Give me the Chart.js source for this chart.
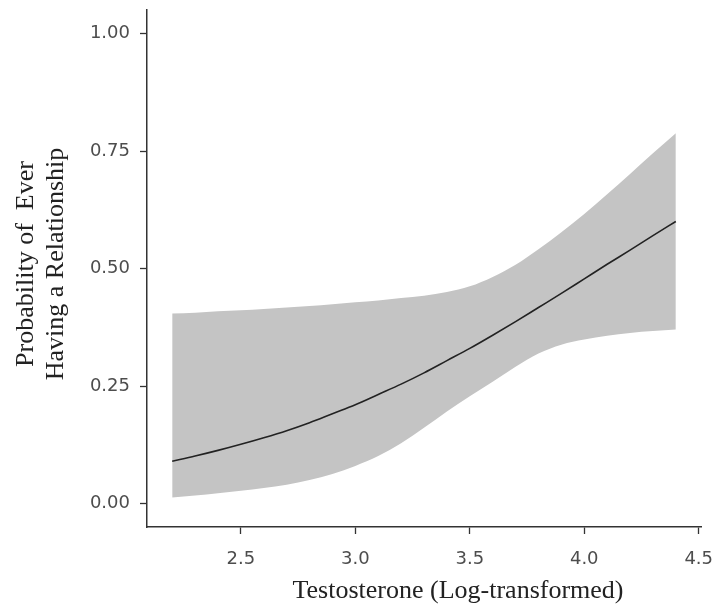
<!DOCTYPE html>
<html lang="en">
<head>
  <meta charset="UTF-8">
  <title>Probability of Ever Having a Relationship</title>
  <script src="https://cdn.jsdelivr.net/npm/chart.js"></script>
  <style>
    html, body { margin: 0; padding: 0; background: #fff; }
    .wrap { width: 716px; height: 607px; }
  </style>
</head>
<body>
  <div class="wrap">
    <canvas id="probChart" width="716" height="607"></canvas>
  </div>

  <script>
    // testosterone (log) values along the fitted curve
    const testosterone = [2.2, 2.3, 2.4, 2.5, 2.6, 2.7, 2.8, 2.9, 3.0, 3.1, 3.2, 3.3,
      3.4, 3.5, 3.6, 3.7, 3.8, 3.9, 4.0, 4.1, 4.2, 4.3, 4.4];
    // fitted probability
    const fitted = [0.090, 0.101, 0.113, 0.126, 0.140, 0.155, 0.172, 0.191, 0.210, 0.232, 0.254, 0.278,
      0.304, 0.330, 0.358, 0.387, 0.417, 0.447, 0.478, 0.509, 0.539, 0.570, 0.600];
    // confidence band
    const lowerCI = [0.013, 0.017, 0.022, 0.027, 0.033, 0.040, 0.050, 0.063, 0.080, 0.101, 0.128, 0.161,
      0.196, 0.228, 0.259, 0.291, 0.319, 0.338, 0.349, 0.357, 0.363, 0.367, 0.370];
    const upperCI = [0.404, 0.406, 0.409, 0.411, 0.414, 0.417, 0.420, 0.424, 0.428, 0.432, 0.437, 0.442,
      0.450, 0.462, 0.482, 0.508, 0.541, 0.577, 0.616, 0.658, 0.701, 0.745, 0.788];

    const xTicks = [2.5, 3.0, 3.5, 4.0, 4.5];
    const yTicks = [0, 0.25, 0.5, 0.75, 1];
    const xTitle = 'Testosterone (Log-transformed)';
    const yTitle = ['Probability of  Ever', 'Having a Relationship'];

    const pts = vals => testosterone.map((x, i) => ({ x: x, y: vals[i] }));

    // axis titles drawn by hand so they sit where the original has them
    const axisTitles = {
      id: 'axisTitles',
      afterDraw(chart) {
        const ctx = chart.ctx;
        ctx.save();
        ctx.fillStyle = '#222';
        ctx.font = '26px "Liberation Serif"';
        ctx.textAlign = 'center';
        ctx.textBaseline = 'alphabetic';
        ctx.fillText(xTitle, 458, 598);
        ctx.translate(0, 264);
        ctx.rotate(-Math.PI / 2);
        ctx.fillText(yTitle[0], 0, 33);
        ctx.fillText(yTitle[1], 0, 63);
        ctx.restore();
      }
    };

    const tickFont = { family: 'DejaVu Sans', size: 18 };

    new Chart(document.getElementById('probChart'), {
      type: 'line',
      data: {
        datasets: [
          {
            label: 'fit',
            data: pts(fitted),
            borderColor: '#222',
            borderWidth: 1.6,
            pointRadius: 0,
            cubicInterpolationMode: 'monotone',
            fill: false
          },
          {
            label: 'lower',
            data: pts(lowerCI),
            borderWidth: 0,
            pointRadius: 0,
            cubicInterpolationMode: 'monotone',
            fill: false
          },
          {
            label: 'upper',
            data: pts(upperCI),
            borderWidth: 0,
            pointRadius: 0,
            cubicInterpolationMode: 'monotone',
            backgroundColor: '#c4c4c4',
            fill: 1
          }
        ]
      },
      options: {
        responsive: false,
        animation: false,
        layout: { padding: { top: 10, right: 15, bottom: 0, left: 0 } },
        plugins: {
          legend: { display: false },
          tooltip: { enabled: false }
        },
        scales: {
          x: {
            type: 'linear',
            min: 2.09,
            max: 4.51,
            afterBuildTicks: s => { s.ticks = xTicks.map(v => ({ value: v })); },
            afterFit: s => { s.height = 80; s.paddingLeft = 0; s.paddingRight = 0; },
            grid: { drawOnChartArea: false, drawTicks: true, tickLength: 7, tickColor: '#333', tickWidth: 1.3 },
            border: { display: true, color: '#333', width: 1.5 },
            ticks: {
              padding: 15,
              color: '#4d4d4d',
              font: tickFont,
              maxRotation: 0,
              autoSkip: false,
              callback: v => Number(v).toFixed(1)
            }
          },
          y: {
            type: 'linear',
            min: -0.05,
            max: 1.05,
            afterBuildTicks: s => { s.ticks = yTicks.map(v => ({ value: v })); },
            afterFit: s => { s.width = 147; s.paddingTop = 0; s.paddingBottom = 0; },
            grid: { drawOnChartArea: false, drawTicks: true, tickLength: 7, tickColor: '#333', tickWidth: 1.3 },
            border: { display: true, color: '#333', width: 1.5 },
            ticks: {
              padding: 10,
              color: '#4d4d4d',
              font: tickFont,
              autoSkip: false,
              callback: v => Number(v).toFixed(2)
            }
          }
        }
      },
      plugins: [axisTitles]
    });
  </script>
</body>
</html>
